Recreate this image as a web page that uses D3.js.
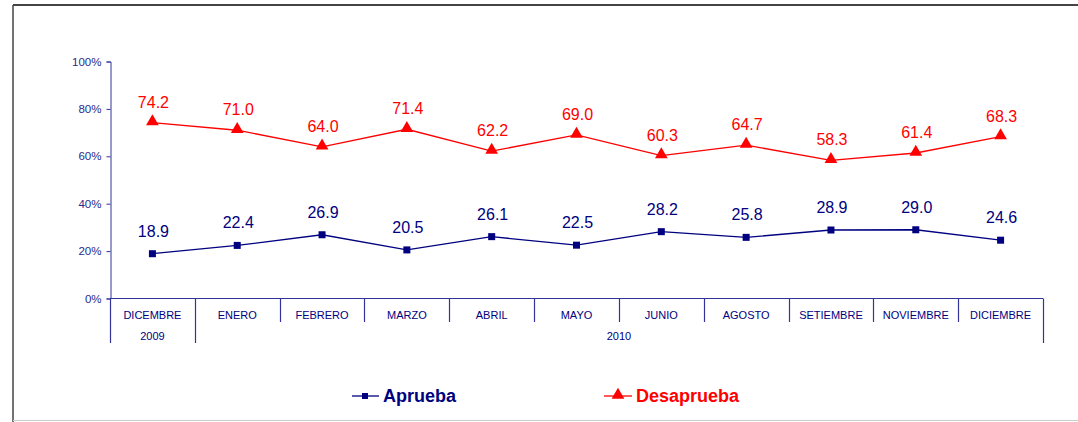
<!DOCTYPE html>
<html>
<head>
<meta charset="utf-8">
<script src="https://cdn.jsdelivr.net/npm/d3@7"></script>
<style>
  body { margin: 0; background: #fff; }
  svg text { font-family: Arial, "Liberation Sans", sans-serif; }
</style>
</head>
<body>
<div id="chart"></div>
<script>
var months = ['DICEMBRE', 'ENERO', 'FEBRERO', 'MARZO', 'ABRIL', 'MAYO', 'JUNIO', 'AGOSTO', 'SETIEMBRE', 'NOVIEMBRE', 'DICIEMBRE'];
var years = [{ label: '2009', from: 0, to: 0 }, { label: '2010', from: 1, to: 10 }];
var aprueba = [18.9, 22.4, 26.9, 20.5, 26.1, 22.5, 28.2, 25.8, 28.9, 29.0, 24.6];
var desaprueba = [74.2, 71.0, 64.0, 71.4, 62.2, 69.0, 60.3, 64.7, 58.3, 61.4, 68.3];
var yTicks = [0, 20, 40, 60, 80, 100];

var svg = d3.select('#chart').append('svg')
  .attr('width', 1078)
  .attr('height', 422);

var axisColor = '#333399';
var blue = '#000080';
var red = '#ff0000';

// frame
svg.append('line').attr('x1', 13).attr('x2', 1078).attr('y1', 5).attr('y2', 5)
  .attr('stroke', '#444').attr('stroke-width', 2);
svg.append('line').attr('x1', 13).attr('x2', 13).attr('y1', 5).attr('y2', 422)
  .attr('stroke', '#444').attr('stroke-width', 1.5);
svg.append('line').attr('x1', 13).attr('x2', 1078).attr('y1', 420.5).attr('y2', 420.5)
  .attr('stroke', '#ccc').attr('stroke-width', 1);

var x = d3.scaleBand().domain(d3.range(months.length)).range([110, 1043]).padding(0);
var y = d3.scaleLinear().domain([0, 100]).range([298.5, 61.5]);

// y axis
var yAxis = d3.axisLeft(y).tickValues(yTicks).tickSize(4).tickFormat(function (d) { return d + '%'; });
var gy = svg.append('g').attr('transform', 'translate(110.5,0)').call(yAxis);
gy.select('.domain').attr('stroke', axisColor);
gy.selectAll('.tick line').attr('stroke', axisColor);
gy.selectAll('.tick text').attr('fill', '#2a2a8a').attr('font-size', 11.5).attr('x', -9)
  .style('font-family', 'Arial, "Liberation Sans", sans-serif');

// x axis baseline
svg.append('line').attr('x1', 110).attr('x2', 1043).attr('y1', y(0)).attr('y2', y(0))
  .attr('stroke', axisColor).attr('stroke-width', 1.2);

// category separators
var bounds = d3.range(months.length + 1);
svg.selectAll('line.sep').data(bounds).enter().append('line')
  .attr('class', 'sep')
  .attr('x1', function (d) { return Math.round(110 + d * x.bandwidth()) + 0.5; })
  .attr('x2', function (d) { return Math.round(110 + d * x.bandwidth()) + 0.5; })
  .attr('y1', y(0))
  .attr('y2', function (d) { return (d === 0 || d === 1 || d === months.length) ? 343 : 322; })
  .attr('stroke', axisColor).attr('stroke-width', 1.2);

svg.selectAll('text.cat').data(months).enter().append('text')
  .attr('class', 'cat')
  .attr('x', function (d, i) { return x(i) + x.bandwidth() / 2; })
  .attr('y', 319)
  .attr('text-anchor', 'middle')
  .attr('font-size', 11)
  .attr('fill', blue)
  .text(function (d) { return d; });

svg.selectAll('text.year').data(years).enter().append('text')
  .attr('class', 'year')
  .attr('x', function (d) { return (x(d.from) + x(d.to) + x.bandwidth()) / 2; })
  .attr('y', 340)
  .attr('text-anchor', 'middle')
  .attr('font-size', 11)
  .attr('fill', blue)
  .text(function (d) { return d.label; });

var line = d3.line()
  .x(function (d, i) { return x(i) + x.bandwidth() / 2; })
  .y(function (d) { return y(d); });

// Aprueba
svg.append('path').datum(aprueba).attr('d', line)
  .attr('fill', 'none').attr('stroke', blue).attr('stroke-width', 1.3);
svg.selectAll('rect.ap').data(aprueba).enter().append('rect')
  .attr('class', 'ap')
  .attr('x', function (d, i) { return x(i) + x.bandwidth() / 2 - 3.5; })
  .attr('y', function (d) { return y(d) - 3.5; })
  .attr('width', 7).attr('height', 7)
  .attr('fill', blue);
svg.selectAll('text.apl').data(aprueba).enter().append('text')
  .attr('class', 'apl')
  .attr('x', function (d, i) { return x(i) + x.bandwidth() / 2 + 1; })
  .attr('y', function (d) { return y(d) - 17; })
  .attr('text-anchor', 'middle')
  .attr('font-size', 16)
  .attr('fill', blue)
  .text(function (d) { return d.toFixed(1); });

// Desaprueba
var tri = d3.symbol().type(d3.symbolTriangle).size(70);
svg.append('path').datum(desaprueba).attr('d', line)
  .attr('fill', 'none').attr('stroke', red).attr('stroke-width', 1.3);
svg.selectAll('path.dp').data(desaprueba).enter().append('path')
  .attr('class', 'dp')
  .attr('d', tri)
  .attr('transform', function (d, i) { return 'translate(' + (x(i) + x.bandwidth() / 2) + ',' + (y(d) - 1) + ')'; })
  .attr('fill', red);
svg.selectAll('text.dpl').data(desaprueba).enter().append('text')
  .attr('class', 'dpl')
  .attr('x', function (d, i) { return x(i) + x.bandwidth() / 2 + 1; })
  .attr('y', function (d) { return y(d) - 15; })
  .attr('text-anchor', 'middle')
  .attr('font-size', 16)
  .attr('fill', red)
  .text(function (d) { return d.toFixed(1); });

// legend
var leg = svg.append('g');
leg.append('line').attr('x1', 352).attr('x2', 379).attr('y1', 396).attr('y2', 396)
  .attr('stroke', blue).attr('stroke-width', 1.3);
leg.append('rect').attr('x', 362).attr('y', 393).attr('width', 6).attr('height', 6).attr('fill', blue);
leg.append('text').attr('x', 383).attr('y', 402).attr('font-size', 18).attr('font-weight', 'bold')
  .attr('fill', blue).text('Aprueba');

leg.append('line').attr('x1', 604).attr('x2', 632).attr('y1', 396).attr('y2', 396)
  .attr('stroke', red).attr('stroke-width', 1.3);
leg.append('path').attr('d', tri).attr('transform', 'translate(618,395)').attr('fill', red);
leg.append('text').attr('x', 636).attr('y', 402).attr('font-size', 18).attr('font-weight', 'bold')
  .attr('fill', red).text('Desaprueba');
</script>
</body>
</html>
